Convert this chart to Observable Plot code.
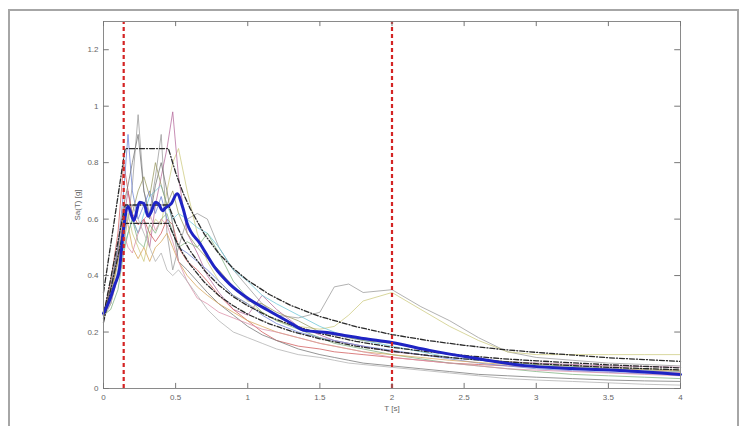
<!DOCTYPE html>
<html>
<head>
<meta charset="utf-8">
<script src="https://cdn.jsdelivr.net/npm/d3@7"></script>
<script src="https://cdn.jsdelivr.net/npm/@observablehq/plot@0.6"></script>
<style>
  body { margin: 0; background: #fff; }
  #wrap { position: relative; width: 745px; height: 426px; overflow: hidden; background: #fff; }
  #frame { position: absolute; left: 8px; top: 9px; width: 727px; height: 440px; border: 2px solid #a6a6a6; }
  #chart { position: absolute; left: 0; top: 0; }
</style>
</head>
<body>
<div id="wrap"><div id="frame"></div><div id="chart"></div></div>
<script>
// ---- axis ticks ----
const xTicks = [0, 0.5, 1, 1.5, 2, 2.5, 3, 3.5, 4];
const xTickLabels = ["0", "0.5", "1", "1.5", "2", "2.5", "3", "3.5", "4"];
const yTicks = [0, 0.2, 0.4, 0.6, 0.8, 1, 1.2];
const yTickLabels = ["0", "0.2", "0.4", "0.6", "0.8", "1", "1.2"];
const xLabel = "T [s]";
const yLabel = "Sa(T) [g]";

// ---- vertical period bounds ----
const boundPeriods = [0.14, 2.0];

// ---- record spectra (shared period grid) ----
const periods = [0, 0.05, 0.1, 0.14, 0.17, 0.2, 0.24, 0.28, 0.32, 0.36, 0.4, 0.44, 0.48, 0.52, 0.58, 0.65, 0.72, 0.8, 0.9, 1.0, 1.1, 1.2, 1.35, 1.5, 1.6, 1.7, 1.8, 2.0, 2.2, 2.4, 2.6, 2.8, 3.0, 3.25, 3.5, 3.75, 4.0];
const recordNames = ["r1","r2","r3","r4","r5","r6","r7","r8","r9","r10","r11","r12"];
const recordColors = ["#9a9a9a","#cdca80","#b56a9c","#d05a5a","#6f84d6","#6cc6d8","#7fb27f","#757575","#d6a55a","#dc8fa8","#b0b0b0","#9a9a62"];
const r1  = [0.27,0.33,0.45,0.55,0.60,0.72,0.97,0.70,0.62,0.75,0.90,0.55,0.42,0.50,0.60,0.62,0.60,0.50,0.42,0.36,0.30,0.26,0.25,0.27,0.36,0.37,0.34,0.35,0.29,0.24,0.18,0.13,0.11,0.10,0.09,0.085,0.08];
const r2  = [0.25,0.30,0.40,0.50,0.62,0.55,0.50,0.45,0.55,0.60,0.58,0.70,0.80,0.85,0.70,0.55,0.45,0.38,0.33,0.30,0.27,0.24,0.22,0.21,0.22,0.26,0.31,0.34,0.28,0.22,0.17,0.13,0.12,0.12,0.12,0.12,0.12];
const r3  = [0.27,0.35,0.48,0.60,0.70,0.60,0.55,0.60,0.50,0.65,0.75,0.85,0.98,0.75,0.55,0.48,0.40,0.34,0.28,0.26,0.33,0.28,0.22,0.19,0.17,0.16,0.15,0.13,0.12,0.11,0.10,0.095,0.09,0.085,0.08,0.078,0.075];
const r4  = [0.26,0.38,0.55,0.80,0.70,0.62,0.58,0.60,0.55,0.52,0.55,0.60,0.58,0.50,0.45,0.42,0.38,0.33,0.28,0.24,0.20,0.17,0.15,0.14,0.13,0.125,0.12,0.11,0.10,0.09,0.085,0.08,0.075,0.07,0.065,0.06,0.058];
const r5  = [0.25,0.35,0.50,0.70,0.90,0.70,0.60,0.65,0.70,0.62,0.68,0.60,0.55,0.50,0.48,0.45,0.42,0.38,0.33,0.30,0.26,0.23,0.20,0.18,0.17,0.16,0.15,0.135,0.12,0.105,0.09,0.08,0.07,0.063,0.057,0.052,0.048];
const r6  = [0.26,0.30,0.42,0.50,0.55,0.60,0.55,0.62,0.68,0.70,0.72,0.65,0.60,0.62,0.60,0.57,0.55,0.50,0.42,0.38,0.33,0.30,0.26,0.22,0.20,0.18,0.17,0.15,0.13,0.11,0.10,0.09,0.085,0.078,0.07,0.065,0.06];
const r7  = [0.26,0.28,0.35,0.48,0.55,0.60,0.52,0.50,0.58,0.55,0.60,0.62,0.55,0.50,0.52,0.50,0.55,0.48,0.38,0.32,0.27,0.24,0.21,0.18,0.16,0.15,0.14,0.12,0.105,0.09,0.08,0.07,0.06,0.05,0.045,0.04,0.035];
const r8  = [0.27,0.36,0.50,0.65,0.72,0.80,0.90,0.70,0.60,0.72,0.80,0.70,0.58,0.45,0.42,0.38,0.34,0.30,0.26,0.22,0.19,0.17,0.14,0.12,0.11,0.10,0.09,0.08,0.07,0.06,0.05,0.045,0.04,0.035,0.03,0.027,0.025];
const r9  = [0.25,0.32,0.45,0.62,0.58,0.50,0.46,0.50,0.45,0.50,0.52,0.55,0.50,0.45,0.40,0.36,0.33,0.30,0.27,0.24,0.22,0.20,0.18,0.16,0.15,0.14,0.13,0.12,0.11,0.10,0.092,0.085,0.08,0.075,0.07,0.066,0.062];
const r10 = [0.26,0.30,0.40,0.55,0.50,0.48,0.55,0.60,0.62,0.56,0.60,0.58,0.52,0.45,0.38,0.32,0.30,0.27,0.25,0.23,0.21,0.20,0.18,0.16,0.15,0.14,0.13,0.11,0.10,0.09,0.08,0.07,0.065,0.06,0.055,0.05,0.045];
const r11 = [0.25,0.30,0.42,0.52,0.60,0.65,0.60,0.55,0.50,0.45,0.48,0.42,0.40,0.42,0.38,0.33,0.28,0.24,0.20,0.18,0.16,0.14,0.12,0.11,0.10,0.09,0.085,0.075,0.065,0.055,0.045,0.035,0.03,0.025,0.02,0.015,0.012];
const r12 = [0.27,0.34,0.46,0.58,0.65,0.62,0.70,0.75,0.68,0.80,0.72,0.65,0.70,0.62,0.55,0.50,0.46,0.42,0.36,0.31,0.30,0.27,0.24,0.20,0.19,0.18,0.17,0.16,0.14,0.12,0.105,0.095,0.085,0.08,0.075,0.07,0.065];
const recordValues = [r1, r2, r3, r4, r5, r6, r7, r8, r9, r10, r11, r12];

// ---- mean spectrum ----
const meanT  = [0, 0.04, 0.08, 0.11, 0.14, 0.17, 0.21, 0.25, 0.28, 0.31, 0.33, 0.36, 0.38, 0.41, 0.43, 0.47, 0.51, 0.55, 0.58, 0.67, 0.77, 0.875, 1.0, 1.14, 1.27, 1.40, 1.53, 1.67, 1.80, 2.0, 2.26, 2.59, 2.92, 3.25, 3.58, 4.0];
const meanSa = [0.266, 0.31, 0.37, 0.42, 0.57, 0.645, 0.595, 0.66, 0.655, 0.61, 0.625, 0.66, 0.655, 0.63, 0.64, 0.655, 0.69, 0.64, 0.585, 0.513, 0.43, 0.37, 0.32, 0.277, 0.24, 0.205, 0.199, 0.188, 0.177, 0.163, 0.135, 0.106, 0.081, 0.071, 0.064, 0.05];

// ---- target spectrum and tolerance bounds ----
const specT    = [0, 0.15, 0.45, 0.5, 0.55, 0.6, 0.7, 0.8, 0.9, 1.0, 1.15, 1.3, 1.5, 1.75, 2.0, 2.25, 2.5, 2.75, 3.0, 3.5, 4.0];
const upperSa  = [0.34, 0.85, 0.85, 0.765, 0.695, 0.638, 0.546, 0.478, 0.425, 0.383, 0.333, 0.294, 0.255, 0.219, 0.191, 0.17, 0.153, 0.139, 0.128, 0.109, 0.096];
const targetSa = [0.26, 0.65, 0.65, 0.585, 0.532, 0.488, 0.418, 0.366, 0.325, 0.293, 0.254, 0.225, 0.195, 0.167, 0.146, 0.13, 0.117, 0.106, 0.098, 0.084, 0.073];
const lowerSa  = [0.234, 0.585, 0.585, 0.527, 0.479, 0.439, 0.376, 0.329, 0.293, 0.263, 0.229, 0.203, 0.176, 0.150, 0.132, 0.117, 0.105, 0.096, 0.088, 0.075, 0.066];

// ---- build tables ----
const records = [];
recordValues.forEach((vals, i) => vals.forEach((v, j) => records.push({name: recordNames[i], T: periods[j], Sa: v})));
const meanData = meanT.map((t, i) => ({T: t, Sa: meanSa[i]}));
const spec = [];
[["upper", upperSa], ["target", targetSa], ["lower", lowerSa]].forEach(([k, arr]) =>
  arr.forEach((v, i) => spec.push({k, T: specT[i], Sa: v})));

const yMax = 1.3;
const chart = Plot.plot({
  width: 745,
  height: 426,
  marginLeft: 103,
  marginRight: 65,
  marginTop: 21,
  marginBottom: 38,
  style: {fontFamily: "'Liberation Sans', Arial, sans-serif", fontSize: "8px", color: "#666", background: "transparent"},
  x: {domain: [0, 4]},
  y: {domain: [0, yMax]},
  color: {domain: recordNames, range: recordColors},
  marks: [
    Plot.line(records, {x: "T", y: "Sa", z: "name", stroke: "name", strokeWidth: 0.9, strokeOpacity: 0.85}),
    Plot.line(spec, {x: "T", y: "Sa", z: "k", stroke: "#2a2a2a", strokeWidth: 1.3, strokeDasharray: "5,2,1,2"}),
    Plot.line(meanData, {x: "T", y: "Sa", stroke: "#1f24c4", strokeWidth: 3, curve: "monotone-x"}),
    Plot.ruleX(boundPeriods, {y1: 0, y2: yMax, stroke: "#d42424", strokeWidth: 2.2, strokeDasharray: "4,3"}),
    Plot.frame({stroke: "#8a8a8a", strokeWidth: 1}),
    // inward ticks on all four sides
    Plot.ruleX(xTicks, {y1: 0, y2: 0.018, stroke: "#777"}),
    Plot.ruleX(xTicks, {y1: yMax - 0.018, y2: yMax, stroke: "#777"}),
    Plot.ruleY(yTicks, {x1: 0, x2: 0.04, stroke: "#777"}),
    Plot.ruleY(yTicks, {x1: 4 - 0.04, x2: 4, stroke: "#777"}),
    Plot.axisX(xTicks, {tickSize: 0, tickPadding: 6, tickFormat: (d, i) => xTickLabels[i], label: xLabel, labelAnchor: "center", labelOffset: 22, labelArrow: "none"}),
    Plot.axisY(yTicks, {tickSize: 0, tickPadding: 5, tickFormat: (d, i) => yTickLabels[i], label: yLabel, labelAnchor: "center", labelOffset: 29, labelArrow: "none"})
  ]
});
document.getElementById("chart").appendChild(chart);
</script>
</body>
</html>
